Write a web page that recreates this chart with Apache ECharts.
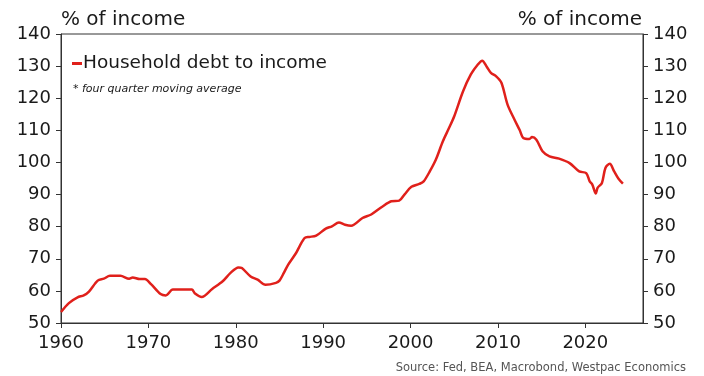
<!DOCTYPE html>
<html>
<head>
<meta charset="utf-8">
<script src="https://cdn.jsdelivr.net/npm/echarts@6/dist/echarts.min.js"></script>
<style>
  html, body { margin: 0; padding: 0; background: #fff; }
  #chart { width: 704px; height: 376px; }
</style>
</head>
<body>
<div id="chart"></div>
<script>
// Household debt to income ratio, four quarter moving average (% of income)
const years = [
  1960.0, 1960.9, 1961.9, 1962.6, 1963.2, 1964.2, 1964.9, 1965.6, 1966.8, 1967.8,
  1968.2, 1969.0, 1969.6, 1970.3, 1971.4, 1972.0, 1972.8, 1973.9, 1975.0, 1975.3,
  1976.1, 1977.3, 1978.5, 1979.4, 1980.3, 1980.7, 1981.7, 1982.5, 1983.4, 1984.6,
  1985.0, 1985.5, 1986.0, 1986.9, 1987.3, 1987.9, 1988.4, 1989.2, 1990.3, 1991.0,
  1991.8, 1992.5, 1993.2, 1994.5, 1995.5, 1996.8, 1997.8, 1998.7, 1999.3, 2000.1,
  2001.0, 2001.5, 2002.2, 2002.9, 2003.7, 2004.4, 2005.0, 2006.0, 2006.9, 2007.7,
  2008.2, 2008.7, 2009.2, 2009.8, 2010.4, 2011.1, 2011.9, 2012.5, 2012.9, 2013.6,
  2013.9, 2014.4, 2015.1, 2015.9, 2017.0, 2018.2, 2019.3, 2020.1, 2020.5, 2020.8,
  2021.2, 2021.4, 2021.9, 2022.3, 2022.8, 2023.3, 2023.8, 2024.3
];
const debtToIncome = [
  53.4, 56.2, 58.0, 58.6, 59.8, 63.2, 63.8, 64.7, 64.7, 63.8,
  64.2, 63.7, 63.7, 62.1, 59.0, 58.6, 60.4, 60.4, 60.4, 59.3,
  58.1, 60.6, 63.0, 65.6, 67.3, 67.1, 64.5, 63.5, 61.9, 62.5,
  63.2, 65.6, 68.2, 71.8, 73.9, 76.5, 76.8, 77.2, 79.4, 80.1,
  81.3, 80.6, 80.3, 82.7, 83.8, 86.3, 87.9, 88.1, 90.0, 92.4,
  93.3, 94.1, 97.2, 100.9, 106.6, 110.7, 114.4, 122.1, 127.4, 130.5,
  131.7, 129.9, 127.9, 126.8, 124.8, 118.0, 113.3, 110.0, 107.6, 107.3,
  107.9, 107.1, 103.5, 101.9, 101.2, 99.8, 97.2, 96.7, 94.1, 93.1,
  90.3, 92.1, 93.6, 98.3, 99.6, 97.2, 94.9, 93.4
];
const yearTicks = [1960, 1970, 1980, 1990, 2000, 2010, 2020];
const seriesName = 'Household debt to income';
const axisTitle = '% of income';
const noteText = '* four quarter moving average';
const sourceText = 'Source: Fed, BEA, Macrobond, Westpac Economics';

const FONT = '"DejaVu Sans"';
const INK = '#1a1a1a';
const AXIS = '#333333';
const RED = '#e0201b';

const chart = echarts.init(document.getElementById('chart'), null, { renderer: 'canvas' });

const yAxisBase = {
  type: 'value',
  min: 50,
  max: 140,
  interval: 10,
  splitLine: { show: false },
  axisLine: { show: true, lineStyle: { color: AXIS, width: 1 } },
  axisTick: { show: true, length: 5, lineStyle: { color: AXIS } },
  axisLabel: { color: INK, fontFamily: FONT, fontSize: 18, margin: 10 }
};

chart.setOption({
  animation: false,
  backgroundColor: '#ffffff',
  grid: {
    left: 61, right: 61, top: 34, bottom: 53,
    show: true, borderColor: AXIS, borderWidth: 1, backgroundColor: 'transparent'
  },
  legend: {
    show: true,
    left: 67, top: 49,
    icon: 'rect',
    itemWidth: 10, itemHeight: 3, itemGap: 0,
    textStyle: { color: INK, fontFamily: FONT, fontSize: 18.5, padding: [0, 0, 0, -4] },
    data: [seriesName]
  },
  xAxis: {
    type: 'value',
    min: 1960,
    max: 2026.6,
    splitLine: { show: false },
    axisLine: { show: true, lineStyle: { color: AXIS } },
    axisTick: { show: true, length: 5, lineStyle: { color: AXIS }, customValues: yearTicks },
    axisLabel: { color: INK, fontFamily: FONT, fontSize: 18, margin: 11, customValues: yearTicks,
      formatter: v => String(v) }
  },
  yAxis: [
    Object.assign({}, yAxisBase, { position: 'left' }),
    Object.assign({}, yAxisBase, { position: 'right' })
  ],
  graphic: [
    { type: 'text', left: 61, top: 10,
      style: { text: axisTitle, fill: INK, font: '20px ' + FONT } },
    { type: 'text', right: 62, top: 10,
      style: { text: axisTitle, fill: INK, font: '20px ' + FONT, textAlign: 'right' } },
    { type: 'text', left: 73, top: 84,
      style: { text: noteText, fill: INK, font: 'italic 11px ' + FONT } },
    { type: 'text', right: 18, top: 362,
      style: { text: sourceText, fill: '#555555', font: '11.5px ' + FONT, textAlign: 'right' } }
  ],
  series: [{
    name: seriesName,
    type: 'line',
    yAxisIndex: 0,
    data: years.map((y, i) => [y, debtToIncome[i]]),
    showSymbol: false,
    smooth: 0.3,
    lineStyle: { color: RED, width: 2.5 },
    itemStyle: { color: RED }
  }]
});
</script>
</body>
</html>
